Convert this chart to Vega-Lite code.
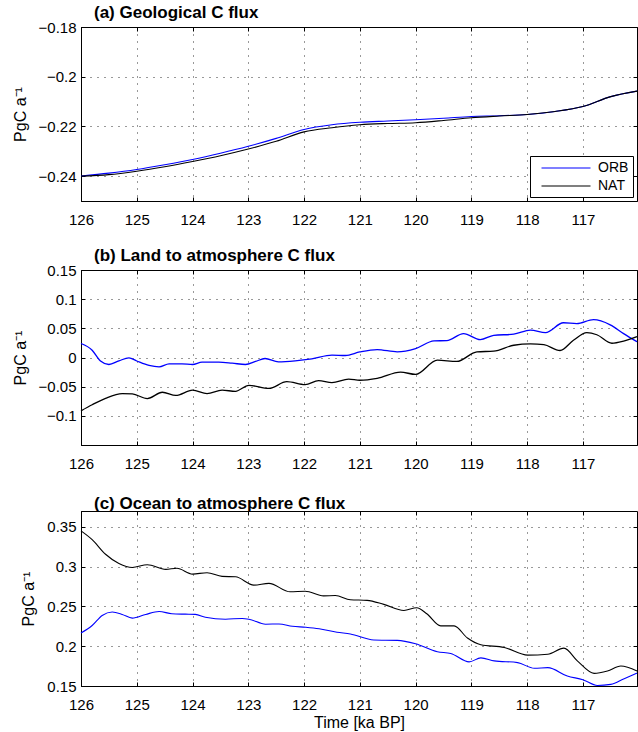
{
  "$schema": "https://vega.github.io/schema/vega-lite/v6.json",
  "padding": {"left": 11, "top": 3, "right": 0, "bottom": 0},
  "background": "white",
  "config": {
    "font": "Liberation Sans",
    "view": {"stroke": "black", "strokeWidth": 1},
    "axis": {
      "labelFont": "Liberation Sans", "titleFont": "Liberation Sans",
      "labelFontSize": 15, "titleFontSize": 16, "titleFontWeight": "normal",
      "labelColor": "black", "titleColor": "black",
      "domainColor": "black", "tickColor": "black",
      "gridColor": "#000000", "gridDash": [1, 6], "gridOpacity": 0.8, "gridWidth": 1,
      "tickSize": -4, "labelFlush": false, "labelOverlap": false
    },
    "axisX": {"labelPadding": 15},
    "axisY": {"labelPadding": 9, "titlePadding": 10},
    "title": {"font": "Liberation Sans", "fontSize": 17, "fontWeight": "bold", "anchor": "start", "frame": "group", "dx": 13, "offset": -2, "color": "black"},
    "legend": {"labelFont": "Liberation Sans"}
  },
  "data": {"values": [
    {"p":"a","s":"ORB","t":126,"v":-0.2400},{"p":"a","s":"ORB","t":125.5,"v":-0.2388},{"p":"a","s":"ORB","t":125,"v":-0.2373},{"p":"a","s":"ORB","t":124.5,"v":-0.2354},{"p":"a","s":"ORB","t":124,"v":-0.2333},{"p":"a","s":"ORB","t":123.5,"v":-0.2308},{"p":"a","s":"ORB","t":123,"v":-0.2280},{"p":"a","s":"ORB","t":122.5,"v":-0.2248},{"p":"a","s":"ORB","t":122,"v":-0.2212},{"p":"a","s":"ORB","t":121.5,"v":-0.2193},{"p":"a","s":"ORB","t":121,"v":-0.2183},{"p":"a","s":"ORB","t":120.5,"v":-0.2178},{"p":"a","s":"ORB","t":120,"v":-0.2173},{"p":"a","s":"ORB","t":119.5,"v":-0.2167},{"p":"a","s":"ORB","t":119,"v":-0.2160},{"p":"a","s":"ORB","t":118.5,"v":-0.2157},{"p":"a","s":"ORB","t":118,"v":-0.2152},{"p":"a","s":"ORB","t":117.5,"v":-0.2140},{"p":"a","s":"ORB","t":117,"v":-0.2120},{"p":"a","s":"ORB","t":116.5,"v":-0.2080},{"p":"a","s":"ORB","t":116.03,"v":-0.2058},
    {"p":"a","s":"NAT","t":126,"v":-0.2400},{"p":"a","s":"NAT","t":125.5,"v":-0.2394},{"p":"a","s":"NAT","t":125,"v":-0.2380},{"p":"a","s":"NAT","t":124.5,"v":-0.2362},{"p":"a","s":"NAT","t":124,"v":-0.2341},{"p":"a","s":"NAT","t":123.5,"v":-0.2318},{"p":"a","s":"NAT","t":123,"v":-0.2291},{"p":"a","s":"NAT","t":122.5,"v":-0.2260},{"p":"a","s":"NAT","t":122,"v":-0.2222},{"p":"a","s":"NAT","t":121.5,"v":-0.2205},{"p":"a","s":"NAT","t":121,"v":-0.2193},{"p":"a","s":"NAT","t":120.5,"v":-0.2188},{"p":"a","s":"NAT","t":120,"v":-0.2185},{"p":"a","s":"NAT","t":119.5,"v":-0.2176},{"p":"a","s":"NAT","t":119,"v":-0.2165},{"p":"a","s":"NAT","t":118.5,"v":-0.2158},{"p":"a","s":"NAT","t":118,"v":-0.2152},{"p":"a","s":"NAT","t":117.5,"v":-0.2140},{"p":"a","s":"NAT","t":117,"v":-0.2120},{"p":"a","s":"NAT","t":116.5,"v":-0.2080},{"p":"a","s":"NAT","t":116.03,"v":-0.2058},
    {"p":"b","s":"ORB","t":126,"v":0.024},{"p":"b","s":"ORB","t":125.8,"v":0.0125},{"p":"b","s":"ORB","t":125.65,"v":-0.006},{"p":"b","s":"ORB","t":125.5,"v":-0.012},{"p":"b","s":"ORB","t":125.32,"v":-0.0057},{"p":"b","s":"ORB","t":125.14,"v":-0.0006},{"p":"b","s":"ORB","t":125.0,"v":-0.006},{"p":"b","s":"ORB","t":124.78,"v":-0.0136},{"p":"b","s":"ORB","t":124.6,"v":-0.016},{"p":"b","s":"ORB","t":124.42,"v":-0.011},{"p":"b","s":"ORB","t":124.19,"v":-0.011},{"p":"b","s":"ORB","t":124.0,"v":-0.012},{"p":"b","s":"ORB","t":123.83,"v":-0.008},{"p":"b","s":"ORB","t":123.53,"v":-0.008},{"p":"b","s":"ORB","t":123.29,"v":-0.0097},{"p":"b","s":"ORB","t":123.05,"v":-0.012},{"p":"b","s":"ORB","t":122.87,"v":-0.0068},{"p":"b","s":"ORB","t":122.7,"v":-0.0017},{"p":"b","s":"ORB","t":122.46,"v":-0.0074},{"p":"b","s":"ORB","t":122.16,"v":-0.0057},{"p":"b","s":"ORB","t":121.86,"v":-0.0023},{"p":"b","s":"ORB","t":121.5,"v":0.004},{"p":"b","s":"ORB","t":121.26,"v":0.0034},{"p":"b","s":"ORB","t":121.0,"v":0.0095},{"p":"b","s":"ORB","t":120.69,"v":0.0136},{"p":"b","s":"ORB","t":120.33,"v":0.0097},{"p":"b","s":"ORB","t":120.0,"v":0.0153},{"p":"b","s":"ORB","t":119.67,"v":0.0284},{"p":"b","s":"ORB","t":119.44,"v":0.029},{"p":"b","s":"ORB","t":119.14,"v":0.041},{"p":"b","s":"ORB","t":118.84,"v":0.0307},{"p":"b","s":"ORB","t":118.6,"v":0.038},{"p":"b","s":"ORB","t":118.24,"v":0.040},{"p":"b","s":"ORB","t":117.94,"v":0.047},{"p":"b","s":"ORB","t":117.67,"v":0.0426},{"p":"b","s":"ORB","t":117.35,"v":0.0596},{"p":"b","s":"ORB","t":117.11,"v":0.058},{"p":"b","s":"ORB","t":116.81,"v":0.0648},{"p":"b","s":"ORB","t":116.51,"v":0.056},{"p":"b","s":"ORB","t":116.27,"v":0.041},{"p":"b","s":"ORB","t":116.03,"v":0.027},
    {"p":"b","s":"NAT","t":126,"v":-0.0914},{"p":"b","s":"NAT","t":125.8,"v":-0.081},{"p":"b","s":"NAT","t":125.56,"v":-0.070},{"p":"b","s":"NAT","t":125.26,"v":-0.062},{"p":"b","s":"NAT","t":125.08,"v":-0.0625},{"p":"b","s":"NAT","t":124.81,"v":-0.0704},{"p":"b","s":"NAT","t":124.54,"v":-0.0596},{"p":"b","s":"NAT","t":124.3,"v":-0.065},{"p":"b","s":"NAT","t":124.0,"v":-0.056},{"p":"b","s":"NAT","t":123.74,"v":-0.062},{"p":"b","s":"NAT","t":123.47,"v":-0.056},{"p":"b","s":"NAT","t":123.23,"v":-0.058},{"p":"b","s":"NAT","t":122.99,"v":-0.0477},{"p":"b","s":"NAT","t":122.63,"v":-0.053},{"p":"b","s":"NAT","t":122.31,"v":-0.0415},{"p":"b","s":"NAT","t":121.98,"v":-0.0466},{"p":"b","s":"NAT","t":121.74,"v":-0.0398},{"p":"b","s":"NAT","t":121.5,"v":-0.043},{"p":"b","s":"NAT","t":121.2,"v":-0.037},{"p":"b","s":"NAT","t":121.0,"v":-0.039},{"p":"b","s":"NAT","t":120.69,"v":-0.0358},{"p":"b","s":"NAT","t":120.27,"v":-0.025},{"p":"b","s":"NAT","t":120.0,"v":-0.029},{"p":"b","s":"NAT","t":119.61,"v":-0.0045},{"p":"b","s":"NAT","t":119.26,"v":-0.0068},{"p":"b","s":"NAT","t":118.9,"v":0.0097},{"p":"b","s":"NAT","t":118.6,"v":0.0108},{"p":"b","s":"NAT","t":118.24,"v":0.021},{"p":"b","s":"NAT","t":117.94,"v":0.0233},{"p":"b","s":"NAT","t":117.7,"v":0.022},{"p":"b","s":"NAT","t":117.41,"v":0.012},{"p":"b","s":"NAT","t":117.17,"v":0.0295},{"p":"b","s":"NAT","t":116.93,"v":0.0426},{"p":"b","s":"NAT","t":116.75,"v":0.039},{"p":"b","s":"NAT","t":116.48,"v":0.0244},{"p":"b","s":"NAT","t":116.27,"v":0.028},{"p":"b","s":"NAT","t":116.03,"v":0.0358},
    {"p":"c","s":"ORB","t":126,"v":0.2167},{"p":"c","s":"ORB","t":125.8,"v":0.226},{"p":"c","s":"ORB","t":125.62,"v":0.2387},{"p":"c","s":"ORB","t":125.44,"v":0.243},{"p":"c","s":"ORB","t":125.26,"v":0.240},{"p":"c","s":"ORB","t":125.08,"v":0.2353},{"p":"c","s":"ORB","t":124.84,"v":0.240},{"p":"c","s":"ORB","t":124.6,"v":0.2437},{"p":"c","s":"ORB","t":124.37,"v":0.2408},{"p":"c","s":"ORB","t":124.13,"v":0.2403},{"p":"c","s":"ORB","t":123.95,"v":0.240},{"p":"c","s":"ORB","t":123.77,"v":0.2365},{"p":"c","s":"ORB","t":123.41,"v":0.234},{"p":"c","s":"ORB","t":123.11,"v":0.2349},{"p":"c","s":"ORB","t":122.99,"v":0.234},{"p":"c","s":"ORB","t":122.69,"v":0.2277},{"p":"c","s":"ORB","t":122.45,"v":0.228},{"p":"c","s":"ORB","t":122.21,"v":0.2251},{"p":"c","s":"ORB","t":121.97,"v":0.2239},{"p":"c","s":"ORB","t":121.73,"v":0.222},{"p":"c","s":"ORB","t":121.41,"v":0.2175},{"p":"c","s":"ORB","t":121.17,"v":0.2154},{"p":"c","s":"ORB","t":120.75,"v":0.2078},{"p":"c","s":"ORB","t":120.33,"v":0.2074},{"p":"c","s":"ORB","t":120.0,"v":0.2031},{"p":"c","s":"ORB","t":119.61,"v":0.193},{"p":"c","s":"ORB","t":119.37,"v":0.1909},{"p":"c","s":"ORB","t":119.04,"v":0.1803},{"p":"c","s":"ORB","t":118.83,"v":0.1854},{"p":"c","s":"ORB","t":118.59,"v":0.1816},{"p":"c","s":"ORB","t":118.17,"v":0.1794},{"p":"c","s":"ORB","t":117.87,"v":0.1723},{"p":"c","s":"ORB","t":117.63,"v":0.1731},{"p":"c","s":"ORB","t":117.28,"v":0.1625},{"p":"c","s":"ORB","t":117.0,"v":0.1579},{"p":"c","s":"ORB","t":116.74,"v":0.1507},{"p":"c","s":"ORB","t":116.5,"v":0.152},{"p":"c","s":"ORB","t":116.26,"v":0.1592},{"p":"c","s":"ORB","t":116.03,"v":0.1663},
    {"p":"c","s":"NAT","t":126,"v":0.345},{"p":"c","s":"NAT","t":125.8,"v":0.334},{"p":"c","s":"NAT","t":125.56,"v":0.3156},{"p":"c","s":"NAT","t":125.32,"v":0.304},{"p":"c","s":"NAT","t":125.08,"v":0.299},{"p":"c","s":"NAT","t":124.81,"v":0.3025},{"p":"c","s":"NAT","t":124.48,"v":0.2966},{"p":"c","s":"NAT","t":124.28,"v":0.298},{"p":"c","s":"NAT","t":124.0,"v":0.2907},{"p":"c","s":"NAT","t":123.74,"v":0.2924},{"p":"c","s":"NAT","t":123.47,"v":0.2878},{"p":"c","s":"NAT","t":123.23,"v":0.2873},{"p":"c","s":"NAT","t":122.9,"v":0.2768},{"p":"c","s":"NAT","t":122.63,"v":0.279},{"p":"c","s":"NAT","t":122.25,"v":0.2684},{"p":"c","s":"NAT","t":121.98,"v":0.2692},{"p":"c","s":"NAT","t":121.65,"v":0.2633},{"p":"c","s":"NAT","t":121.44,"v":0.2637},{"p":"c","s":"NAT","t":121.17,"v":0.2585},{"p":"c","s":"NAT","t":120.87,"v":0.2577},{"p":"c","s":"NAT","t":120.57,"v":0.2526},{"p":"c","s":"NAT","t":120.21,"v":0.245},{"p":"c","s":"NAT","t":119.98,"v":0.2484},{"p":"c","s":"NAT","t":119.8,"v":0.2408},{"p":"c","s":"NAT","t":119.55,"v":0.2256},{"p":"c","s":"NAT","t":119.31,"v":0.2256},{"p":"c","s":"NAT","t":119.07,"v":0.2103},{"p":"c","s":"NAT","t":118.83,"v":0.2019},{"p":"c","s":"NAT","t":118.41,"v":0.1985},{"p":"c","s":"NAT","t":117.99,"v":0.1888},{"p":"c","s":"NAT","t":117.63,"v":0.19},{"p":"c","s":"NAT","t":117.34,"v":0.1976},{"p":"c","s":"NAT","t":117.1,"v":0.1816},{"p":"c","s":"NAT","t":116.8,"v":0.1659},{"p":"c","s":"NAT","t":116.56,"v":0.1689},{"p":"c","s":"NAT","t":116.32,"v":0.1752},{"p":"c","s":"NAT","t":116.03,"v":0.1689}
  ]},
  "spacing": 18,
  "resolve": {"scale": {"color": "independent", "x": "independent", "y": "independent"}},
  "vconcat": [
    {
      "title": {"text": "(a) Geological C flux"},
      "width": 556, "height": 174,
      "transform": [{"filter": "datum.p == 'a'"}],
      "layer": [
        {
          "mark": {"type": "line", "strokeWidth": 1.1, "interpolate": "monotone"},
          "encoding": {
            "x": {"field": "t", "type": "quantitative", "scale": {"domain": [116.03, 126], "reverse": true, "nice": false, "zero": false},
                  "axis": {"values": [117,118,119,120,121,122,123,124,125,126], "format": "d", "title": null, "grid": true}},
            "y": {"field": "v", "type": "quantitative", "scale": {"domain": [-0.25, -0.18], "nice": false, "zero": false},
                  "axis": {"values": [-0.24,-0.22,-0.2,-0.18], "format": ".2~f", "title": "PgC a⁻¹", "grid": true}},
            "color": {"field": "s", "type": "nominal", "scale": {"domain": ["ORB", "NAT"], "range": ["#0000ff", "#000000"]},
                      "legend": {"title": null, "orient": "bottom-right", "offset": 4, "strokeColor": "black", "fillColor": "white",
                                 "symbolType": "M-3.5,0H3.5", "symbolSize": 196, "symbolStrokeWidth": 1.2, "symbolOffset": 24, "labelOffset": 24,
                                 "rowPadding": 3, "labelFontSize": 14, "labelColor": "black", "padding": 4, "cornerRadius": 0,
                                 "encode": {"symbols": {
                                   "enter": {"stroke": {"signal": "datum.label === 'ORB' ? '#0000ff' : '#000000'"}, "fill": {"value": "transparent"}},
                                   "update": {"stroke": {"signal": "datum.label === 'ORB' ? '#0000ff' : '#000000'"}, "fill": {"value": "transparent"}, "strokeOpacity": {"value": 1}}}}}}
          }
        },
        {
          "mark": {"type": "line", "strokeOpacity": 0},
          "encoding": {
            "x": {"field": "t", "type": "quantitative", "axis": {"orient": "top", "values": [117,118,119,120,121,122,123,124,125,126], "labels": false, "title": null, "grid": false, "domain": false}},
            "y": {"field": "v", "type": "quantitative", "axis": {"orient": "right", "values": [-0.24,-0.22,-0.2,-0.18], "labels": false, "title": null, "grid": false, "domain": false}},
            "detail": {"field": "s"}
          }
        }
      ],
      "resolve": {"axis": {"x": "independent", "y": "independent"}}
    },
    {
      "spacing": 22,
      "vconcat": [
        {
          "title": {"text": "(b) Land to atmosphere C flux"},
          "width": 556, "height": 175,
          "transform": [{"filter": "datum.p == 'b'"}],
          "layer": [
            {
              "mark": {"type": "line", "strokeWidth": 1.3, "interpolate": "monotone"},
              "encoding": {
                "x": {"field": "t", "type": "quantitative", "scale": {"domain": [116.03, 126], "reverse": true, "nice": false, "zero": false},
                      "axis": {"values": [117,118,119,120,121,122,123,124,125,126], "format": "d", "title": null, "grid": true}},
                "y": {"field": "v", "type": "quantitative", "scale": {"domain": [-0.15, 0.15], "nice": false, "zero": false},
                      "axis": {"values": [-0.1,-0.05,0,0.05,0.1,0.15], "format": ".2~f", "title": "PgC a⁻¹", "grid": true}},
                "color": {"field": "s", "type": "nominal", "scale": {"domain": ["ORB", "NAT"], "range": ["#0000ff", "#000000"]}, "legend": null}
              }
            },
            {
              "mark": {"type": "line", "strokeOpacity": 0},
              "encoding": {
                "x": {"field": "t", "type": "quantitative", "axis": {"orient": "top", "values": [117,118,119,120,121,122,123,124,125,126], "labels": false, "title": null, "grid": false, "domain": false}},
                "y": {"field": "v", "type": "quantitative", "axis": {"orient": "right", "values": [-0.1,-0.05,0,0.05,0.1,0.15], "labels": false, "title": null, "grid": false, "domain": false}},
                "detail": {"field": "s"}
              }
            }
          ],
          "resolve": {"axis": {"x": "independent", "y": "independent"}}
        },
        {
          "title": {"text": "(c) Ocean to atmosphere C flux"},
          "width": 556, "height": 175,
          "transform": [{"filter": "datum.p == 'c'"}],
          "layer": [
            {
              "mark": {"type": "line", "strokeWidth": 1.1, "interpolate": "monotone"},
              "encoding": {
                "x": {"field": "t", "type": "quantitative", "scale": {"domain": [116.03, 126], "reverse": true, "nice": false, "zero": false},
                      "axis": {"values": [117,118,119,120,121,122,123,124,125,126], "format": "d", "title": "Time [ka BP]", "grid": true, "titlePadding": 2}},
                "y": {"field": "v", "type": "quantitative", "scale": {"domain": [0.15, 0.37], "nice": false, "zero": false},
                      "axis": {"values": [0.15,0.2,0.25,0.3,0.35], "format": ".2~f", "title": "PgC a⁻¹", "grid": true}},
                "color": {"field": "s", "type": "nominal", "scale": {"domain": ["ORB", "NAT"], "range": ["#0000ff", "#000000"]}, "legend": null}
              }
            },
            {
              "mark": {"type": "line", "strokeOpacity": 0},
              "encoding": {
                "x": {"field": "t", "type": "quantitative", "axis": {"orient": "top", "values": [117,118,119,120,121,122,123,124,125,126], "labels": false, "title": null, "grid": false, "domain": false}},
                "y": {"field": "v", "type": "quantitative", "axis": {"orient": "right", "values": [0.15,0.2,0.25,0.3,0.35], "labels": false, "title": null, "grid": false, "domain": false}},
                "detail": {"field": "s"}
              }
            }
          ],
          "resolve": {"axis": {"x": "independent", "y": "independent"}}
        }
      ],
      "resolve": {"scale": {"color": "independent", "x": "independent", "y": "independent"}}
    }
  ]
}
